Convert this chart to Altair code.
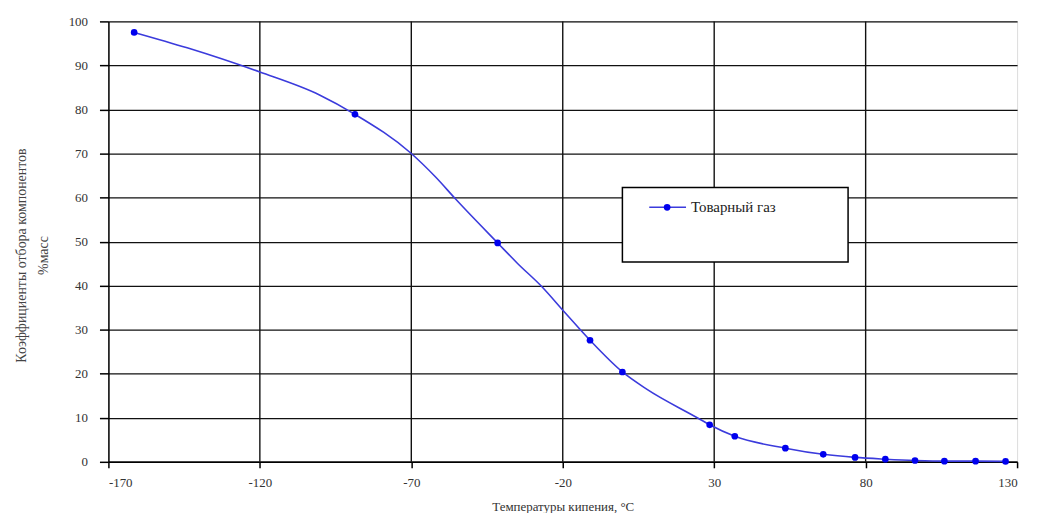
import altair as alt
import pandas as pd

# Marked points (boiling temperature, °C ; recovery coefficient, % mass)
marker_x = [-161.5, -88.6, -41.5, -11.0, -0.3, 28.5, 36.8, 53.5, 66.0, 76.5, 86.5, 96.3, 106.0, 116.3, 126.2]
marker_y = [97.5, 78.9, 49.7, 27.6, 20.4, 8.4, 5.8, 3.1, 1.7, 1.0, 0.6, 0.3, 0.15, 0.15, 0.1]

# Extra points (no markers)
curve_extra_x = [-144.0, -120.0, -100.3, -70.0, -61.9, -55.3, -35.0, -26.8, -19.3, 7.7, 24.7]
curve_extra_y = [94.0, 88.5, 83.3, 70.0, 64.6, 59.6, 45.1, 39.7, 33.9, 16.5, 9.9]

x_ticks = [-170, -120, -70, -20, 30, 80, 130]
x_grid = [-120, -70, -20, 30, 80]
y_ticks = list(range(0, 101, 10))

series_name = "Товарный газ"
x_title = "Температуры кипения, °C"
y_title = ["Коэффициенты отбора компонентов", "%масс"]

markers = pd.DataFrame({"x": marker_x, "y": marker_y})
curve = pd.concat([markers, pd.DataFrame({"x": curve_extra_x, "y": curve_extra_y})]).sort_values("x")
grid_df = pd.DataFrame({"g": x_grid})
one = pd.DataFrame({"label": [series_name]})

FONT = "Liberation Serif"
W, H = 914, 443

xscale = alt.Scale(domain=[-170, 130], nice=False, zero=False)
yscale = alt.Scale(domain=[0, 100], nice=False)

xaxis = alt.Axis(values=x_ticks, grid=False, title=x_title, tickSize=6, tickColor="black",
                 domainColor="black", domainWidth=1.5, tickWidth=1.5,
                 labelExpr="datum.value < 0 ? '-' + abs(datum.value) : '' + datum.value",
                 labelFontSize=13, labelColor="#333", labelPadding=9, labelFont=FONT,
                 titleFont=FONT, titleFontSize=13, titleFontWeight="normal", titleColor="#333",
                 titlePadding=11)
yaxis = alt.Axis(values=y_ticks, grid=True, gridColor="#111", gridWidth=1.4, title=y_title,
                 tickSize=9, tickColor="black", tickWidth=1.5, domainColor="black", domainWidth=1.5,
                 labelFontSize=13, labelColor="#333", labelPadding=12, labelFont=FONT,
                 titleFont=FONT, titleFontSize=14, titleFontWeight="normal", titleColor="#444",
                 titleAngle=-90, titleBaseline="top", titleAlign="center",
                 titleX=-94, titleY=235, titleLineHeight=22)

vgrid = alt.Chart(grid_df).mark_rule(color="#111", strokeWidth=1.4).encode(
    x=alt.X("g:Q", scale=xscale, axis=xaxis)
)

line = alt.Chart(curve).mark_line(color="#3b3bdc", strokeWidth=1.6, interpolate="monotone").encode(
    x=alt.X("x:Q", scale=xscale, axis=xaxis),
    y=alt.Y("y:Q", scale=yscale, axis=yaxis),
)

pts = alt.Chart(markers).mark_circle(color="#0000ee", size=45, opacity=1).encode(
    x=alt.X("x:Q", scale=xscale),
    y=alt.Y("y:Q", scale=yscale),
)

# Legend box
box = alt.Chart(one).mark_rect(fill="white", stroke="black", strokeWidth=1.5).encode(
    x=alt.value(517), x2=alt.value(744), y=alt.value(167), y2=alt.value(242)
)
leg_line = alt.Chart(one).mark_rule(color="#3b3bdc", strokeWidth=1.6).encode(
    x=alt.value(544), x2=alt.value(581), y=alt.value(187)
)
leg_pt = alt.Chart(one).mark_circle(color="#0000ee", size=45, opacity=1).encode(
    x=alt.value(562), y=alt.value(187)
)
leg_txt = alt.Chart(one).mark_text(align="left", baseline="middle", font=FONT, fontSize=15,
                                   color="#222").encode(
    x=alt.value(586), y=alt.value(187), text="label:N"
)

chart = alt.layer(vgrid, line, pts, box, leg_line, leg_pt, leg_txt).properties(
    width=W, height=H,
    autosize=alt.AutoSizeParams(type="none"),
    padding={"left": 101, "top": 12, "right": 15, "bottom": 50},
).configure_view(strokeWidth=0).configure(background="white")

chart.save("out.html", embed_options={"renderer": "svg", "actions": False})
